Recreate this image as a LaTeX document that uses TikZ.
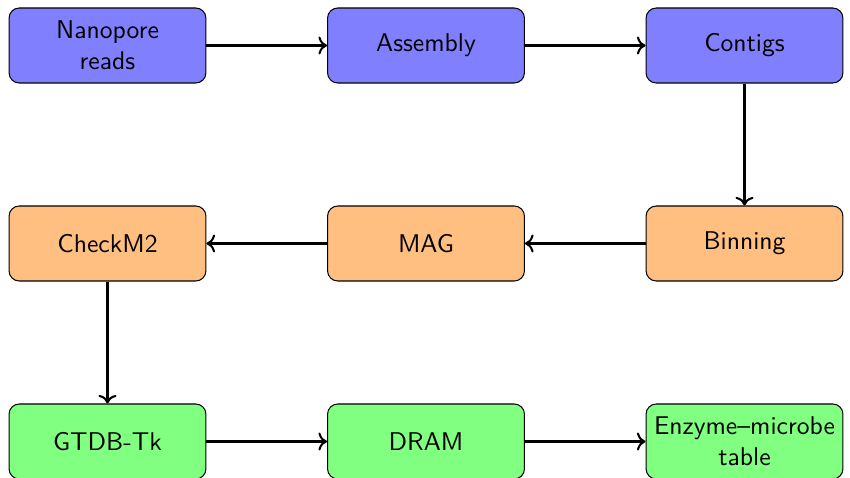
\documentclass[tikz,border=0pt]{standalone}
\usetikzlibrary{arrows.meta}
\tikzset{
  stepbox/.style={draw=black, rounded corners=4pt, minimum width=76.8pt, minimum height=29.25pt, inner sep=1pt, align=center, font=\sffamily, line width=0.4pt},
  bluebox/.style={stepbox, fill=blue!50},
  orangebox/.style={stepbox, fill=orange!50},
  greenbox/.style={stepbox, fill=green!50},
  flow/.style={->, thick}
}
\begin{document}
\begin{tikzpicture}[x=0.39pt, y=-0.39pt]
\useasboundingbox (0,0) rectangle (850,478);
\node[bluebox] (reads) at (107.5,45.5) {Nanopore\\reads};
\node[bluebox] (asm) at (426,45.5) {Assembly};
\node[bluebox] (contigs) at (744.5,45.5) {Contigs};
\node[orangebox] (bin) at (744.5,243.5) {Binning};
\node[orangebox] (mag) at (426,243.5) {MAG};
\node[orangebox] (checkm) at (107.5,243.5) {CheckM2};
\node[greenbox] (gtdb) at (107.5,441.5) {GTDB-Tk};
\node[greenbox] (dram) at (426,441.5) {DRAM};
\node[greenbox] (table) at (744.5,441.5) {Enzyme--microbe\\table};
\draw[flow] (reads) -- (asm);
\draw[flow] (asm) -- (contigs);
\draw[flow] (contigs) -- (bin);
\draw[flow] (bin) -- (mag);
\draw[flow] (mag) -- (checkm);
\draw[flow] (checkm) -- (gtdb);
\draw[flow] (gtdb) -- (dram);
\draw[flow] (dram) -- (table);
\end{tikzpicture}
\end{document}
